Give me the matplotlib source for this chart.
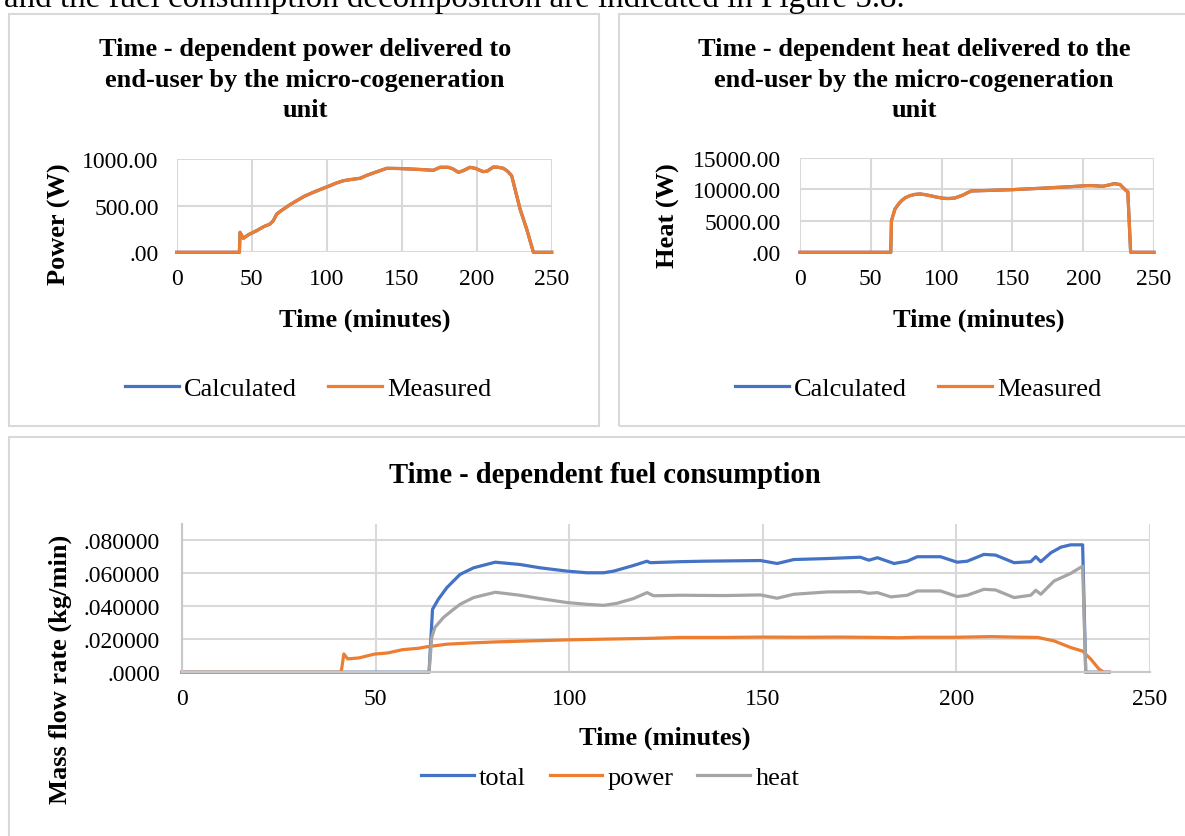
import matplotlib.pyplot as plt
from matplotlib.patches import Rectangle

plt.rcParams['font.family'] = ['Liberation Serif', 'DejaVu Serif']

# ---- data ----
x_ticks = [0, 50, 100, 150, 200, 250]

# power delivered (W); calculated and measured lie on top of each other
power_t = [0, 41.8, 42.2, 44.4, 48, 53.3, 58, 62.2, 64.4, 66.7, 70, 75, 80, 85,
           91.1, 96, 102.2, 106, 111.1, 116, 122.2, 126, 131.1, 135, 140, 148,
           155.5, 163, 171.1, 175.5, 181, 184, 187.8, 191, 195.5, 199, 204.4,
           207, 211.1, 214, 217.8, 220.5, 223.3, 228.9, 233.3, 237.8, 250]
power_measured = [0, 0, 214, 150, 190, 232, 275, 303, 339, 410, 450, 505, 553, 600,
                  643, 675, 714, 740, 767, 780, 793, 820, 850, 872, 900, 898,
                  893, 887, 879, 911, 911, 895, 857, 875, 911, 900, 864,
                  870, 914, 912, 900, 870, 821, 464, 250, 0, 0]
power_calculated = [0, 0, 214, 150, 190, 232, 275, 303, 339, 410, 450, 505, 553, 600,
                    643, 675, 714, 740, 767, 780, 793, 820, 850, 872, 900, 898,
                    893, 887, 879, 911, 911, 895, 857, 875, 911, 900, 864,
                    870, 914, 912, 900, 870, 821, 464, 250, 0, 0]

# heat delivered (W)
heat_t = [0, 64.1, 64.6, 67.1, 69.5, 71.8, 74.5, 77.7, 81, 84.7, 88, 91.8, 96,
          101.2, 105, 109.4, 112, 115.3, 118, 121.1, 130, 140, 150.5, 160, 170,
          178.6, 190, 202.1, 207, 213.8, 218, 222, 226, 230.3, 231.5, 233.5, 250]
heat_measured = [0, 0, 5040, 6890, 7650, 8220, 8700, 9010, 9200, 9280, 9180, 9010, 8800,
                 8590, 8550, 8640, 8850, 9120, 9450, 9760, 9820, 9890, 9970, 10080, 10180,
                 10290, 10420, 10600, 10600, 10500, 10700, 10920, 10780, 9810, 9650, 0, 0]
heat_calculated = [0, 0, 5040, 6890, 7650, 8220, 8700, 9010, 9200, 9280, 9180, 9010, 8800,
                   8590, 8550, 8640, 8850, 9120, 9450, 9760, 9820, 9890, 9970, 10080, 10180,
                   10290, 10420, 10600, 10600, 10500, 10700, 10920, 10780, 9810, 9650, 0, 0]

# fuel consumption (kg/min)
fuel_power_t = [0, 41.1, 41.8, 42.8, 45.7, 49.7, 53.1, 57, 61, 63.4, 64.5, 68.4, 75,
                81.3, 90, 99.4, 110, 120, 128.7, 140, 150, 160, 170, 180, 185, 190,
                200, 209, 215, 221, 225.2, 229.5, 232.6, 234.7, 236.8, 238.1, 239.5]
fuel_power = [0, 0, .0111, .0081, .0087, .0110, .0117, .0137, .0145, .0155, .0158, .0170, .0178,
              .0184, .0190, .0196, .0201, .0205, .0211, .0211, .0213, .0212, .0213, .0211, .0209, .0212,
              .0212, .0216, .0213, .0211, .0190, .0150, .0128, .0080, .0020, 0, 0]

fuel_heat_t = [0, 63.8, 64.5, 65.3, 67.5, 69.8, 71.8, 75.3, 80.9, 87.3, 92.5, 99.4, 104.6,
               108.9, 112.3, 116.6, 120.1, 121.8, 128.7, 140, 149.4, 153.7, 158, 166.6,
               175.2, 177.4, 179.6, 183.1, 187.3, 189.9, 195.9, 200.2, 202.8, 207.1, 210.1,
               214.9, 219.2, 220.5, 221.8, 225.2, 229.5, 232.6, 233.4, 239.5]
fuel_heat = [0, 0, .0210, .0271, .0331, .0375, .0411, .0452, .0484, .0466, .0446, .0422, .0411,
             .0405, .0417, .0446, .0482, .0463, .0466, .0464, .0468, .0448, .0472, .0486,
             .0488, .0478, .0482, .0456, .0466, .0492, .0492, .0458, .0466, .0502, .0498,
             .0452, .0466, .0496, .0472, .0552, .0598, .0642, 0, 0]

fuel_total_t = [0, 63.8, 64.7, 66.2, 68.4, 71.8, 75.3, 80.9, 87.3, 92.5, 99.4, 104.6, 108.9,
                111.5, 116.6, 120.1, 120.9, 128.7, 134.7, 149.4, 153.7, 158, 166.6, 175.2,
                177.4, 179.6, 183.9, 187.3, 189.9, 195.9, 200.2, 202.8, 207.1, 210.1, 214.9,
                219.2, 220.5, 221.8, 224.4, 227, 229.5, 232.6, 233.4, 239.5]
fuel_total = [0, 0, .0381, .0442, .0512, .0592, .0632, .0666, .0652, .0632, .0612, .0602, .0602,
              .0612, .0646, .0672, .0663, .0669, .0672, .0676, .0658, .0682, .0688, .0696,
              .0678, .0693, .0658, .0672, .0699, .0699, .0666, .0672, .0713, .0709, .0663,
              .0669, .0699, .0669, .0723, .0757, .0771, .0771, 0, 0]

power_yticks = [0, 500, 1000]
power_ylabels = ['.00', '500.00', '1000.00']
heat_yticks = [0, 5000, 10000, 15000]
heat_ylabels = ['.00', '5000.00', '10000.00', '15000.00']
fuel_yticks = [0, 0.02, 0.04, 0.06, 0.08]
fuel_ylabels = ['.0000', '.020000', '.040000', '.060000', '.080000']

BLUE = '#4472C4'
ORANGE = '#ED7D31'
GRAY = '#A5A5A5'
GRID = '#D9D9D9'

W, H = 1185, 837
fig = plt.figure(figsize=(W / 100, H / 100), dpi=100)


def fx(px):
    return px / W


def fy(py):
    return 1 - py / H


def axes_at(left, top, right, bottom):
    return fig.add_axes([fx(left), fy(bottom), (right - left) / W, (bottom - top) / H])


def style_axes(ax, ymax, yticks, ylabels, ypad):
    ax.set_xlim(0, 250)
    ax.set_ylim(0, ymax)
    ax.set_xticks(x_ticks)
    ax.set_yticks(yticks)
    ax.set_yticklabels(ylabels)
    ax.tick_params(axis='both', length=0, labelsize=17)
    ax.tick_params(axis='x', pad=11)
    ax.tick_params(axis='y', pad=ypad)
    ax.grid(True, color=GRID, lw=1.5)
    ax.set_axisbelow(True)
    for s in ax.spines.values():
        s.set_visible(False)


# panel frames
for (l, t, r, b) in [(9, 15, 599, 427), (619, 15, 1192, 427), (9, 438, 1192, 850)]:
    fig.patches.append(Rectangle((fx(l), fy(b)), (r - l) / W, (b - t) / H,
                                 transform=fig.transFigure, fill=False,
                                 edgecolor=GRID, lw=1.5))

# sentence from the page above the figure (cut by the top edge, as in the reference)
fig.text(fx(4), fy(7), 'and the fuel consumption decomposition are indicated in Figure 5.8.',
         fontsize=23.8, ha='left', va='baseline')

# ---- power panel ----
ax1 = axes_at(176.7, 160, 551.7, 253.3)
style_axes(ax1, 1000, power_yticks, power_ylabels, 13)
ax1.plot(power_t, power_calculated, color=BLUE, lw=2.3, label='Calculated', clip_on=False)
ax1.plot(power_t, power_measured, color=ORANGE, lw=2.3, label='Measured', clip_on=False)
fig.text(fx(305), fy(80), 'Time - dependent power delivered to\nend-user by the micro-cogeneration\nunit',
         ha='center', va='center', fontsize=19, fontweight='bold', linespacing=1.43)
fig.text(fx(365), fy(320), 'Time (minutes)', ha='center', va='center', fontsize=19, fontweight='bold')
fig.text(fx(59), fy(224), 'Power (W)', ha='center', va='center', rotation=90,
         fontsize=19, fontweight='bold')
ax1.legend(loc='center', bbox_to_anchor=(fx(308), fy(389)), bbox_transform=fig.transFigure,
           ncol=2, frameon=False, fontsize=19, handlelength=2.05, handletextpad=0.2,
           columnspacing=1.15)

# ---- heat panel ----
ax2 = axes_at(800, 159, 1154, 253.3)
style_axes(ax2, 15000, heat_yticks, heat_ylabels, 14)
ax2.plot(heat_t, heat_calculated, color=BLUE, lw=2.3, label='Calculated', clip_on=False)
ax2.plot(heat_t, heat_measured, color=ORANGE, lw=2.3, label='Measured', clip_on=False)
fig.text(fx(914), fy(80), 'Time - dependent heat delivered to the\nend-user by the micro-cogeneration\nunit',
         ha='center', va='center', fontsize=19, fontweight='bold', linespacing=1.43)
fig.text(fx(979), fy(320), 'Time (minutes)', ha='center', va='center', fontsize=19, fontweight='bold')
fig.text(fx(668), fy(216), 'Heat (W)', ha='center', va='center', rotation=90,
         fontsize=19, fontweight='bold')
ax2.legend(loc='center', bbox_to_anchor=(fx(918), fy(389)), bbox_transform=fig.transFigure,
           ncol=2, frameon=False, fontsize=19, handlelength=2.05, handletextpad=0.2,
           columnspacing=1.15)

# ---- fuel panel ----
ax3 = axes_at(182, 524.5, 1150, 673.3)
style_axes(ax3, 0.09, fuel_yticks, fuel_ylabels, 16)
ax3.spines['left'].set_visible(True)
ax3.spines['bottom'].set_visible(True)
ax3.spines['left'].set_color('#C8C8C8')
ax3.spines['bottom'].set_color('#C8C8C8')
ax3.spines['left'].set_linewidth(1.5)
ax3.spines['bottom'].set_linewidth(1.5)
ax3.plot(fuel_total_t, fuel_total, color=BLUE, lw=2.3, label='total', clip_on=False)
ax3.plot(fuel_power_t, fuel_power, color=ORANGE, lw=2.3, label='power', clip_on=False)
ax3.plot(fuel_heat_t, fuel_heat, color=GRAY, lw=2.3, label='heat', clip_on=False)
fig.text(fx(605), fy(476), 'Time - dependent fuel consumption', ha='center', va='center',
         fontsize=20.6, fontweight='bold')
fig.text(fx(665), fy(738), 'Time (minutes)', ha='center', va='center', fontsize=19, fontweight='bold')
fig.text(fx(60), fy(669), 'Mass flow rate (kg/min)', ha='center', va='center', rotation=90,
         fontsize=19, fontweight='bold')
ax3.legend(loc='center', bbox_to_anchor=(fx(610), fy(778)), bbox_transform=fig.transFigure,
           ncol=3, frameon=False, fontsize=19, handlelength=2.0, handletextpad=0.2,
           columnspacing=0.9)

fig.savefig('out.png', dpi=100)
